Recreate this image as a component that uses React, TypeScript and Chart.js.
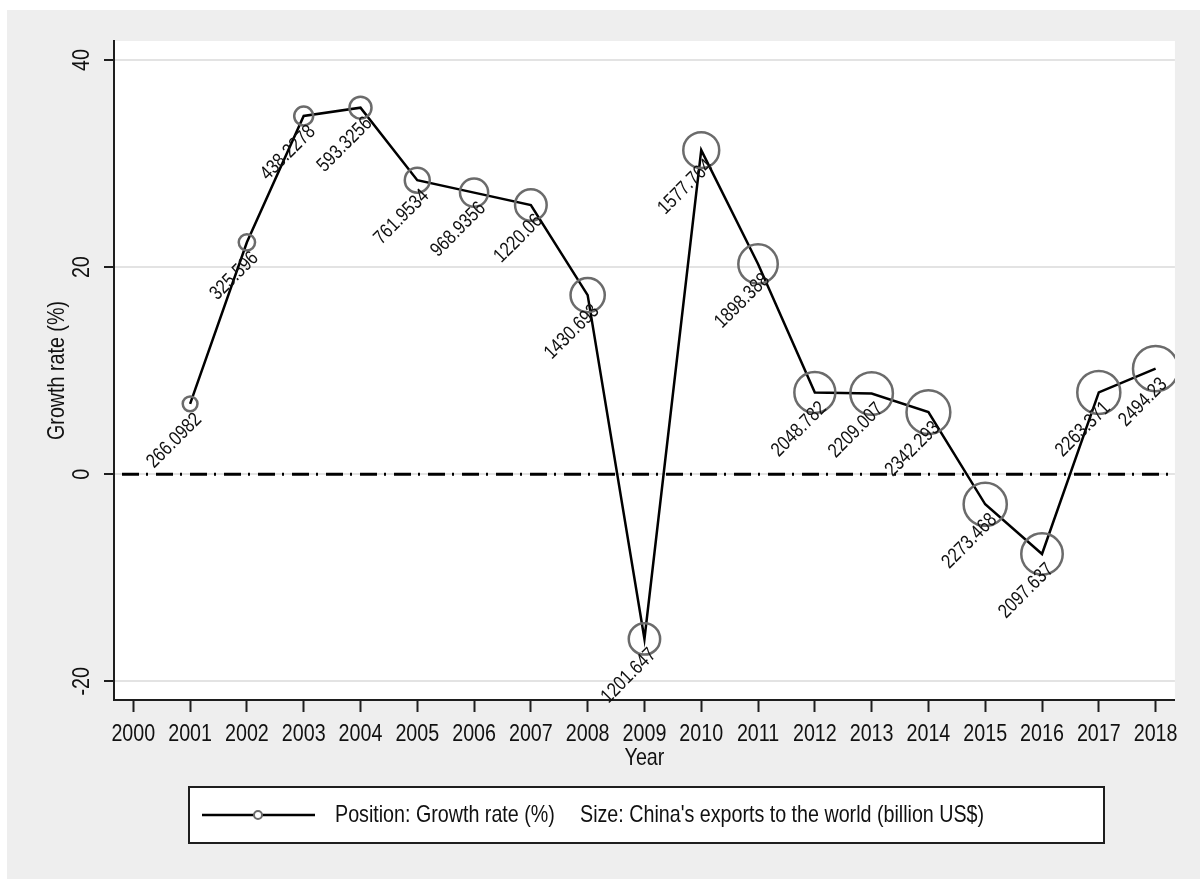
import React, { useEffect, useRef } from "react";
import { Chart, registerables } from "chart.js";

Chart.register(...registerables);

// ---------- data ----------
const YEARS = [2001, 2002, 2003, 2004, 2005, 2006, 2007, 2008, 2009, 2010, 2011, 2012, 2013, 2014, 2015, 2016, 2017, 2018];
const GROWTH = [6.8, 22.4, 34.6, 35.4, 28.4, 27.2, 26.0, 17.3, -15.9, 31.3, 20.3, 7.9, 7.8, 6.0, -2.9, -7.7, 7.9, 10.2];
const EXPORTS = [266.0982, 325.596, 438.2278, 593.3256, 761.9534, 968.9356, 1220.06, 1430.693, 1201.647, 1577.764, 1898.388, 2048.782, 2209.007, 2342.293, 2273.468, 2097.637, 2263.371, 2494.23];
const EXPORT_LABELS = ["266.0982", "325.596", "438.2278", "593.3256", "761.9534", "968.9356", "1220.06", "1430.693", "1201.647", "1577.764", "1898.388", "2048.782", "2209.007", "2342.293", "2273.468", "2097.637", "2263.371", "2494.23"];
const X_TICKS = [2000, 2001, 2002, 2003, 2004, 2005, 2006, 2007, 2008, 2009, 2010, 2011, 2012, 2013, 2014, 2015, 2016, 2017, 2018];
const Y_TICKS = [-20, 0, 20, 40];
const REF_Y = 0;
const X_TITLE = "Year";
const Y_TITLE = "Growth rate (%)";
const LEGEND_POSITION = "Position: Growth rate (%)";
const LEGEND_SIZE = "Size: China's exports to the world (billion US$)";

// ---------- style ----------
const FONT = "'Liberation Sans', Arial, sans-serif";
const NARROW = 0.82;
const W = 1200;
const H = 879;
const AREA = { left: 114, top: 41, right: 1179, bottom: 700 };
const X_MIN = 1999.66;
const X_MAX = 2018.34;
const Y_MIN = -21.8;
const Y_MAX = 41.84;
const SIZE_K = 0.4525;
const GRID = "#e3e3e3";
const AXIS = "#1e1e1e";
const TEXT = "#111111";
const MARKER = "#6b6b6b";

function narrowText(ctx: any, text: string, x: number, y: number, rot: number, align: string, size: number) {
  ctx.save();
  ctx.translate(x, y);
  if (rot) ctx.rotate(rot);
  ctx.scale(NARROW, 1);
  ctx.font = `${size}px ${FONT}`;
  ctx.textAlign = align;
  ctx.textBaseline = "middle";
  ctx.fillText(text, 0, 0);
  ctx.restore();
}

const decorPlugin = {
  id: "decor",
  beforeDraw(chart: any) {
    const ctx = chart.ctx;
    const a = chart.chartArea;
    ctx.save();
    ctx.fillStyle = "#ffffff";
    ctx.fillRect(0, 0, W, H);
    ctx.fillStyle = "#eeeeee";
    ctx.fillRect(7, 10, W - 7, H - 10);
    ctx.fillStyle = "#ffffff";
    ctx.fillRect(a.left, a.top, a.right - a.left, a.bottom - a.top);
    ctx.restore();
  },
  beforeDatasetsDraw(chart: any) {
    const ctx = chart.ctx;
    const a = chart.chartArea;
    const y = chart.scales.y.getPixelForValue(REF_Y);
    ctx.save();
    ctx.strokeStyle = "#000000";
    ctx.lineWidth = 3.2;
    ctx.setLineDash([17, 7, 2, 8]);
    ctx.beginPath();
    ctx.moveTo(a.left + 8, y);
    ctx.lineTo(a.right, y);
    ctx.stroke();
    ctx.restore();
  },
  afterDatasetsDraw(chart: any) {
    const ctx = chart.ctx;
    const meta = chart.getDatasetMeta(0);
    ctx.save();
    ctx.fillStyle = TEXT;
    meta.data.forEach((pt: any, i: number) => {
      ctx.save();
      ctx.translate(pt.x, pt.y);
      ctx.rotate(-Math.PI / 4);
      narrowText(ctx, EXPORT_LABELS[i], -3, 15, 0, "right", 20);
      ctx.restore();
    });
    ctx.restore();
  },
  afterDraw(chart: any) {
    const ctx = chart.ctx;
    const a = chart.chartArea;
    const ys = chart.scales.y;
    const xs = chart.scales.x;
    ctx.save();
    ctx.fillStyle = TEXT;
    // y tick labels (rotated)
    ys.ticks.forEach((t: any) => {
      narrowText(ctx, String(t.value), 82, ys.getPixelForValue(t.value), -Math.PI / 2, "center", 24);
    });
    // x tick labels
    xs.ticks.forEach((t: any) => {
      narrowText(ctx, String(t.value), xs.getPixelForValue(t.value), 734, 0, "center", 24);
    });
    // axis titles
    narrowText(ctx, X_TITLE, (a.left + a.right) / 2, 758, 0, "center", 24);
    narrowText(ctx, Y_TITLE, 57, (a.top + a.bottom) / 2, -Math.PI / 2, "center", 24);

    // legend
    const lx = 189, ly = 787, lw = 915, lh = 56;
    ctx.fillStyle = "#ffffff";
    ctx.fillRect(lx, ly, lw, lh);
    ctx.strokeStyle = AXIS;
    ctx.lineWidth = 2;
    ctx.strokeRect(lx, ly, lw, lh);
    const cy = ly + lh / 2;
    ctx.strokeStyle = "#000000";
    ctx.lineWidth = 2.5;
    ctx.beginPath();
    ctx.moveTo(202, cy);
    ctx.lineTo(315, cy);
    ctx.stroke();
    ctx.strokeStyle = MARKER;
    ctx.lineWidth = 2;
    ctx.fillStyle = "#ffffff";
    ctx.beginPath();
    ctx.arc(258, cy, 4, 0, Math.PI * 2);
    ctx.fill();
    ctx.stroke();
    ctx.fillStyle = TEXT;
    narrowText(ctx, LEGEND_POSITION, 335, cy, 0, "left", 24);
    narrowText(ctx, LEGEND_SIZE, 580, cy, 0, "left", 24);
    ctx.restore();
  },
};

export default function App() {
  const ref = useRef<HTMLCanvasElement | null>(null);

  useEffect(() => {
    if (!ref.current) return;
    const chart = new Chart(ref.current, {
      type: "line",
      data: {
        datasets: [
          {
            data: YEARS.map((x, i) => ({ x, y: GROWTH[i] })),
            borderColor: "#000000",
            borderWidth: 2.5,
            tension: 0,
            pointRadius: (c: any) => SIZE_K * Math.sqrt(EXPORTS[c.dataIndex] || 0),
            pointHoverRadius: (c: any) => SIZE_K * Math.sqrt(EXPORTS[c.dataIndex] || 0),
            pointBorderColor: MARKER,
            pointBorderWidth: 2.5,
            pointBackgroundColor: "rgba(0,0,0,0)",
          },
        ],
      },
      options: {
        animation: false,
        responsive: false,
        events: [],
        layout: { padding: { left: 0, top: AREA.top, right: W - AREA.right, bottom: 0 } },
        plugins: { legend: { display: false }, tooltip: { enabled: false }, title: { display: false } },
        scales: {
          x: {
            type: "linear",
            min: X_MIN,
            max: X_MAX,
            afterBuildTicks: (s: any) => {
              s.ticks = X_TICKS.map((v) => ({ value: v }));
            },
            afterFit: (s: any) => {
              s.height = H - AREA.bottom;
            },
            ticks: { display: false },
            grid: {
              drawOnChartArea: false,
              drawTicks: true,
              tickLength: 12,
              tickColor: AXIS,
              tickWidth: 2,
            },
            border: { display: true, color: AXIS, width: 2 },
          },
          y: {
            type: "linear",
            min: Y_MIN,
            max: Y_MAX,
            afterBuildTicks: (s: any) => {
              s.ticks = Y_TICKS.map((v) => ({ value: v }));
            },
            afterFit: (s: any) => {
              s.width = AREA.left;
            },
            ticks: { display: false },
            grid: {
              color: GRID,
              lineWidth: 2,
              drawTicks: true,
              tickLength: 10,
              tickColor: AXIS,
              tickWidth: 2,
            },
            border: { display: true, color: AXIS, width: 2 },
          },
        },
      },
      plugins: [decorPlugin],
    } as any);
    return () => chart.destroy();
  }, []);

  return (
    <div style={{ position: "absolute", left: 0, top: 0, width: W, height: H }}>
      <canvas ref={ref} width={W} height={H} style={{ display: "block", width: W, height: H }} />
    </div>
  );
}
